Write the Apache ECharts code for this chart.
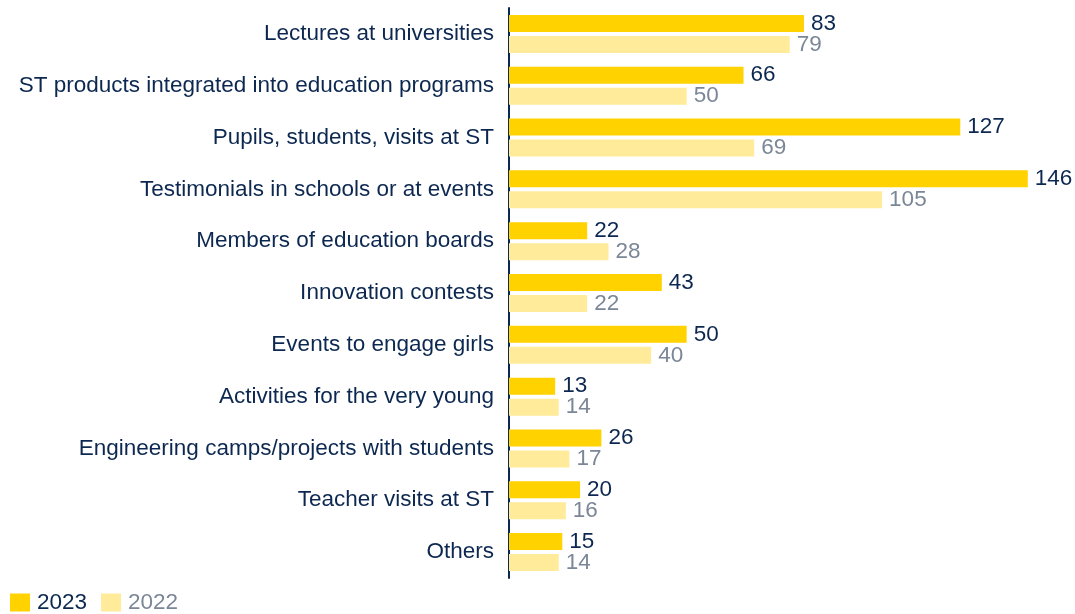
<!DOCTYPE html>
<html>
<head>
<meta charset="utf-8">
<script src="https://cdn.jsdelivr.net/npm/echarts@6/dist/echarts.min.js"></script>
<style>
  html, body { margin: 0; padding: 0; background: #fff; }
  #chart { width: 1075px; height: 614px; }
</style>
</head>
<body>
<div id="chart"></div>
<script>
const categories = [
  'Lectures at universities',
  'ST products integrated into education programs',
  'Pupils, students, visits at ST',
  'Testimonials in schools or at events',
  'Members of education boards',
  'Innovation contests',
  'Events to engage girls',
  'Activities for the very young',
  'Engineering camps/projects with students',
  'Teacher visits at ST',
  'Others'
];
const values2023 = [83, 66, 127, 146, 22, 43, 50, 13, 26, 20, 15];
const values2022 = [79, 50, 69, 105, 28, 22, 40, 14, 17, 16, 14];

const navy = '#0c2850';
const grey = '#7b8797';
const font = 'Liberation Sans, Arial, sans-serif';
const fs = 22.5;

const chart = echarts.init(document.getElementById('chart'));
chart.setOption({
  animation: false,
  textStyle: { fontFamily: font },
  grid: { left: 509, top: 8, height: 570, width: 533 },
  legend: {
    left: 10, top: 591, padding: 0,
    itemWidth: 20, itemHeight: 18, itemGap: 14,
    icon: 'rect',
    data: [
      { name: '2023', textStyle: { color: navy } },
      { name: '2022', textStyle: { color: grey } }
    ],
    textStyle: { fontSize: fs, fontFamily: font, padding: [0, 0, 0, 2] }
  },
  xAxis: {
    type: 'value', min: 0, max: 150,
    show: false
  },
  yAxis: {
    type: 'category',
    inverse: true,
    data: categories,
    axisLine: { show: true, lineStyle: { color: navy, width: 2 } },
    axisTick: { show: false },
    axisLabel: { color: navy, fontSize: fs, margin: 15, fontFamily: font }
  },
  series: [
    {
      name: '2023', type: 'bar', data: values2023,
      barWidth: 17, barGap: '23.5%',
      itemStyle: { color: '#ffd200' },
      label: { show: true, position: 'right', distance: 7, color: navy, fontSize: fs, fontFamily: font }
    },
    {
      name: '2022', type: 'bar', data: values2022,
      barWidth: 17,
      itemStyle: { color: '#ffeb99' },
      label: { show: true, position: 'right', distance: 7, color: grey, fontSize: fs, fontFamily: font }
    }
  ]
});
</script>
</body>
</html>
